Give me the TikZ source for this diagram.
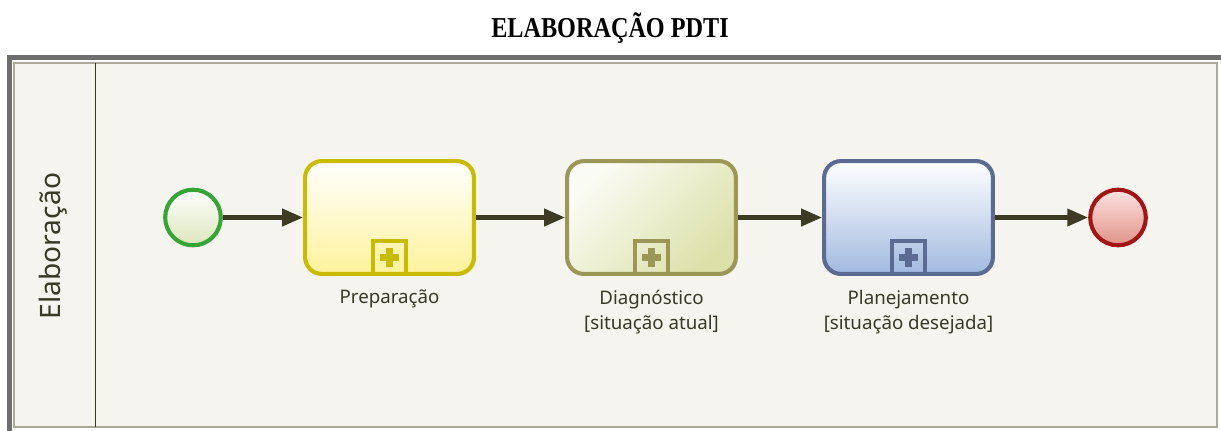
\documentclass[tikz,border=0pt]{standalone}
\usepackage{fontspec}
\setsansfont{Noto Sans}
\newfontfamily\titlefont{Liberation Serif}
\usetikzlibrary{arrows.meta,shadows}

\definecolor{framegray}{HTML}{6E6E6E}
\definecolor{lanegray}{HTML}{A9A899}
\definecolor{lanefill}{HTML}{F5F4EF}
\definecolor{olivetext}{HTML}{3A3826}
\definecolor{flowcol}{HTML}{3E3B25}
\definecolor{startline}{HTML}{35A535}
\definecolor{startfill}{HTML}{DCE6BC}
\definecolor{endline}{HTML}{A31414}
\definecolor{endfill}{HTML}{DF9288}
\definecolor{prepline}{HTML}{C9BC00}
\definecolor{prepfill}{HTML}{FFF29C}
\definecolor{diagline}{HTML}{9B9757}
\definecolor{diagfill}{HTML}{DCE1AA}
\definecolor{planline}{HTML}{5B6B92}
\definecolor{planfill}{HTML}{A2BAE0}

\begin{document}
\begin{tikzpicture}[x=0.025cm, y=-0.025cm, thick, font=\sffamily]
	
	% page = picture, 1221 x 430 units
	\useasboundingbox (0,0) rectangle (1221,430);
	
	\tikzstyle{flow}=[line width=3.1pt, draw=flowcol, -{Triangle[length=0.52cm,width=0.42cm]}]
	\tikzstyle{task}=[draw, rectangle, rounded corners=0.42cm, line width=2.9pt,
		minimum width=4.22cm, minimum height=2.82cm, shading angle=45,
		drop shadow={opacity=0.18, shadow xshift=1.2pt, shadow yshift=-1.2pt}]
	\tikzstyle{event}=[draw, circle, line width=2.9pt, minimum size=1.39cm,
		drop shadow={opacity=0.18, shadow xshift=1.2pt, shadow yshift=-1.2pt}]
	\tikzstyle{marker}=[draw, rectangle, line width=2.9pt, minimum size=0.83cm, anchor=south]
	\tikzstyle{caption}=[anchor=north, text=olivetext, align=center, inner sep=0pt,
		font=\sffamily\fontsize{13.3}{17.8}\selectfont]
	
	% title
	\node [xscale=0.84] (title) at (610,28) {\titlefont\bfseries\fontsize{20.5}{22}\selectfont ELABORAÇÃO PDTI};
	
	% pool and lane
	\begin{scope}
		\clip (0,0) rectangle (1221,430);
		\draw [lanegray, line width=1.4pt, fill=lanefill] (14,63) rectangle (1217,427);
		\draw [framegray, line width=3.6pt] (9.5,440) -- (9.5,57.5) -- (1240,57.5);
		\draw [olivetext, line width=0.7pt] (95,63) -- (95,427);
	\end{scope}
	\node [rotate=90, text=olivetext, font=\sffamily\fontsize{20}{22}\selectfont] (lane) at (53,246) {Elaboração};
	
	% events and tasks
	\node [event, draw=startline, top color=white, bottom color=startfill] (start) at (193,217.5) {};
	\node [task, draw=prepline, top color=white, bottom color=prepfill] (prep) at (389.5,217.5) {};
	\node [task, draw=diagline, top color=white!60!diagfill!30, bottom color=diagfill, shading angle=45] (diag) at (651.5,217.5) {};
	\node [task, draw=planline, top color=white, bottom color=planfill] (plan) at (908.5,217.5) {};
	\node [event, draw=endline, top color=endfill!15!pink!40, bottom color=endfill] (end) at (1118,217.5) {};
	
	% collapsed sub-process markers
	\foreach \t/\c in {prep/prepline, diag/diagline, plan/planline}{
		\node [marker, draw=\c] (\t mk) at (\t.south) {};
		\draw [\c, line width=4.6pt] ([xshift=-0.23cm]\t mk.center) -- ([xshift=0.23cm]\t mk.center);
		\draw [\c, line width=4.6pt] ([yshift=-0.23cm]\t mk.center) -- ([yshift=0.23cm]\t mk.center);
	}
	
	% labels
	\node [caption] (preplbl) at ([yshift=-0.34cm]prep.south) {Preparação};
	\node [caption] (diaglbl) at ([yshift=-0.34cm]diag.south) {Diagnóstico\\{[}situação atual{]}};
	\node [caption] (planlbl) at ([yshift=-0.34cm]plan.south) {Planejamento\\{[}situação desejada{]}};
	
	% sequence flows
	\draw [flow] (start) -- (prep);
	\draw [flow] (prep) -- (diag);
	\draw [flow] (diag) -- (plan);
	\draw [flow] (plan) -- (end);
	
\end{tikzpicture}
\end{document}
